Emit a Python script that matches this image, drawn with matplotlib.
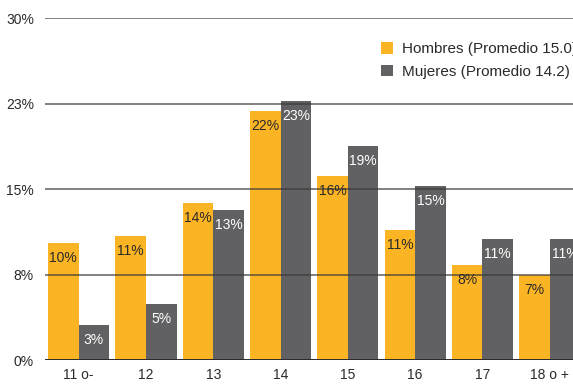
import numpy as np
import matplotlib.pyplot as plt

plt.rcParams['font.family'] = ['Liberation Sans', 'DejaVu Sans']

# Distribución por edad (%)
edades = ["11 o-", "12", "13", "14", "15", "16", "17", "18 o +"]
hombres = [10.3, 10.9, 13.8, 21.8, 16.1, 11.4, 8.3, 7.45]
mujeres = [3.1, 4.9, 13.2, 22.7, 18.8, 15.3, 10.6, 10.6]
yticks = [0, 7.5, 15, 22.5, 30]
ytick_labels = ["0%", "8%", "15%", "23%", "30%"]
nombres = ["Hombres (Promedio 15.0)", "Mujeres (Promedio 14.2)"]

naranja = "#FBB424"
gris = "#616163"

fig = plt.figure(figsize=(5.73, 3.84), dpi=100)
ax = fig.add_axes([0.0785, 0.0625, 0.9396, 0.8906])

x = np.arange(len(edades))
w = 0.455
b1 = ax.bar(x - w / 2, hombres, w, color=naranja, zorder=1, label=nombres[0])
b2 = ax.bar(x + w / 2, mujeres, w, color=gris, zorder=1, label=nombres[1])

# etiquetas dentro de las barras, cerca del extremo superior
for xi, v in zip(x - w / 2, hombres):
    ax.annotate(f"{v:.0f}%", (xi, v), xytext=(0, -15), textcoords="offset pixels",
                ha="center", va="center", fontsize=10, color="#2a2a2a", zorder=4)
for xi, v in zip(x + w / 2, mujeres):
    ax.annotate(f"{v:.0f}%", (xi, v), xytext=(0, -15), textcoords="offset pixels",
                ha="center", va="center", fontsize=10, color="white", zorder=4)

# líneas de referencia sobre las barras
for t in yticks[1:]:
    ax.axhline(t, color="#3a3a3a", lw=1.2, alpha=0.75, zorder=3)
ax.axhline(0, color="#2a2a2a", lw=1.4, zorder=3)

ax.set_xlim(-0.5, 7.5)
ax.set_ylim(0, 30)
ax.set_yticks(yticks)
ax.set_yticklabels(ytick_labels)
ax.set_xticks(x)
ax.set_xticklabels(edades)
ax.tick_params(length=0, labelsize=10, colors="#2a2a2a")
ax.tick_params(axis="y", pad=8)
ax.tick_params(axis="x", pad=6)
for s in ax.spines.values():
    s.set_visible(False)

fig.legend(handles=[b1, b2], loc="upper left", bbox_to_anchor=(0.665, 0.89),
           frameon=False, fontsize=11, handlelength=0.8, handleheight=0.8,
           handletextpad=0.55, labelspacing=0.55, borderaxespad=0, borderpad=0,
           labelcolor="#2a2a2a")

fig.savefig("out.png", dpi=100)
